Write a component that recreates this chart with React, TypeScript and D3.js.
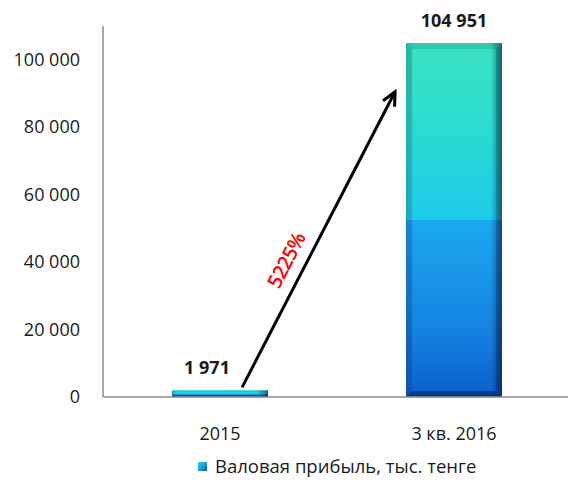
import React from 'react';
import * as d3 from 'd3';

const categories = ['2015', '3 кв. 2016'];
const values = [1971, 104951];
const valueLabels = ['1 971', '104 951'];
const yTicks = [0, 20000, 40000, 60000, 80000, 100000];
const seriesName = 'Валовая прибыль, тыс. тенге';
const growthLabel = '5225%';
// arrow goes from the top of the first bar towards the second one
const arrowFrom = { cat: '2015', value: 1971 };
const arrowTo = { cat: '3 кв. 2016', value: 90500 };

const W = 568;
const H = 482;
const margin = { top: 26, left: 103, bottom: 85, right: -3 };
const font = '"Open Sans", "Liberation Sans", sans-serif';

const fmt = (v: number) => d3.format(',')(v).replace(/,/g, ' ');

export default function App() {
  const x = d3.scaleBand<string>()
    .domain(categories)
    .range([margin.left, W - margin.right])
    .paddingInner(0.59)
    .paddingOuter(0.295);

  const y = d3.scaleLinear()
    .domain([0, 110000])
    .range([H - margin.bottom, margin.top]);

  const bw = x.bandwidth();
  const y0 = y(0);

  // arrow geometry
  const ax1 = (x(arrowFrom.cat) ?? 0) + bw * 0.73;
  const ay1 = y(arrowFrom.value) - 3;
  const ax2 = (x(arrowTo.cat) ?? 0) - 11;
  const ay2 = y(arrowTo.value);
  const ang = Math.atan2(ay2 - ay1, ax2 - ax1);
  const head = 15;
  const spread = 0.45;
  const h1 = [ax2 - head * Math.cos(ang - spread), ay2 - head * Math.sin(ang - spread)];
  const h2 = [ax2 - head * Math.cos(ang + spread), ay2 - head * Math.sin(ang + spread)];
  const angDeg = (ang * 180) / Math.PI;
  // label sits on the upper-left side of the arrow
  const tFrac = 0.4;
  const nx = Math.sin(ang);
  const ny = -Math.cos(ang);
  const lx = ax1 + (ax2 - ax1) * tFrac + nx * 19;
  const ly = ay1 + (ay2 - ay1) * tFrac + ny * 19;

  return (
    <div style={{ position: 'absolute', left: 0, top: 0 }}>
      <svg width={W} height={H} style={{ display: 'block', background: '#fff' }}>
        <defs>
          <linearGradient id="barFill" x1="0" y1="0" x2="0" y2="1">
            <stop offset="0" stopColor="#3ae2bf" />
            <stop offset="0.25" stopColor="#2adbd2" />
            <stop offset="0.5" stopColor="#1ccbea" />
            <stop offset="0.5" stopColor="#1aa9ee" />
            <stop offset="0.8" stopColor="#1584e2" />
            <stop offset="1" stopColor="#0b5fcc" />
          </linearGradient>
          <linearGradient id="edgeFill" x1="0" y1="0" x2="0" y2="1">
            <stop offset="0" stopColor="#14a294" />
            <stop offset="0.5" stopColor="#18a4a8" />
            <stop offset="0.5" stopColor="#1470c4" />
            <stop offset="1" stopColor="#0a4aa0" />
          </linearGradient>
          <linearGradient id="shade" x1="0" y1="0" x2="1" y2="0">
            <stop offset="0" stopColor="#002040" stopOpacity="0.1" />
            <stop offset="0.08" stopColor="#002040" stopOpacity="0" />
            <stop offset="0.88" stopColor="#002040" stopOpacity="0" />
            <stop offset="1" stopColor="#001030" stopOpacity="0.5" />
          </linearGradient>
          <linearGradient id="legendFill" x1="0" y1="0" x2="1" y2="1">
            <stop offset="0" stopColor="#2ad6d0" />
            <stop offset="0.5" stopColor="#1aa0e8" />
            <stop offset="1" stopColor="#0a4aa0" />
          </linearGradient>
        </defs>

        {/* bars */}
        {categories.map((c, i) => {
          const bx = x(c) ?? 0;
          const by = y(values[i]);
          const bh = y0 - by;
          const b = Math.min(6, bh / 4);
          const r = bx + bw;
          return (
            <g key={c}>
              <rect x={bx} y={by} width={bw} height={bh} fill="url(#barFill)" />
              {/* side bevels */}
              <polygon points={`${bx},${by} ${bx + b},${by + b} ${bx + b},${y0 - b} ${bx},${y0}`} fill="url(#edgeFill)" opacity={0.5} />
              <polygon points={`${r},${by} ${r - b},${by + b} ${r - b},${y0 - b} ${r},${y0}`} fill="url(#edgeFill)" opacity={0.7} />
              {/* top bevel */}
              <polygon points={`${bx},${by} ${r},${by} ${r - b},${by + b} ${bx + b},${by + b}`} fill="#1cae9c" opacity={0.45} />
              {/* bottom bevel */}
              <polygon points={`${bx},${y0} ${r},${y0} ${r - b},${y0 - b} ${bx + b},${y0 - b}`} fill="#03306e" opacity={0.7} />
              <rect x={bx} y={by} width={bw} height={bh} fill="url(#shade)" />
            </g>
          );
        })}

        {/* axes */}
        <line x1={margin.left} x2={margin.left} y1={margin.top} y2={y0} stroke="#8c8c8c" strokeWidth={1.5} />
        <line x1={margin.left} x2={W} y1={y0} y2={y0} stroke="#8c8c8c" strokeWidth={1.5} />

        {yTicks.map(t => (
          <text key={t} x={80} y={y(t)} dy="0.35em" textAnchor="end"
            fontFamily={font} fontSize={18} fill="#1a1a1a">{fmt(t)}</text>
        ))}

        {categories.map(c => (
          <text key={c} x={(x(c) ?? 0) + bw / 2} y={y0 + 43} textAnchor="middle"
            fontFamily={font} fontSize={18} fill="#1a1a1a">{c}</text>
        ))}

        {/* value labels */}
        {categories.map((c, i) => (
          <text key={c} x={(x(c) ?? 0) + bw / 2 + (i === 0 ? -13 : 0)} y={y(values[i]) - 16}
            textAnchor="middle" fontFamily={font} fontSize={18} fontWeight="bold" fill="#1a1a1a">
            {valueLabels[i]}
          </text>
        ))}

        {/* growth arrow */}
        <line x1={ax1} y1={ay1} x2={ax2} y2={ay2} stroke="#000" strokeWidth={3} />
        <polyline points={`${h1[0]},${h1[1]} ${ax2},${ay2} ${h2[0]},${h2[1]}`}
          fill="none" stroke="#000" strokeWidth={3} />
        <text x={lx} y={ly} transform={`rotate(${angDeg}, ${lx}, ${ly})`} textAnchor="middle"
          dy="0.35em" fontFamily={font} fontSize={20} fontWeight={600} letterSpacing={-0.8}
          fill="#ff0000">{growthLabel}</text>

        {/* legend */}
        <rect x={198} y={462} width={9} height={9} fill="url(#legendFill)" />
        <text x={215} y={473} fontFamily={font} fontSize={18.5} fill="#1a1a1a">{seriesName}</text>
      </svg>
    </div>
  );
}
